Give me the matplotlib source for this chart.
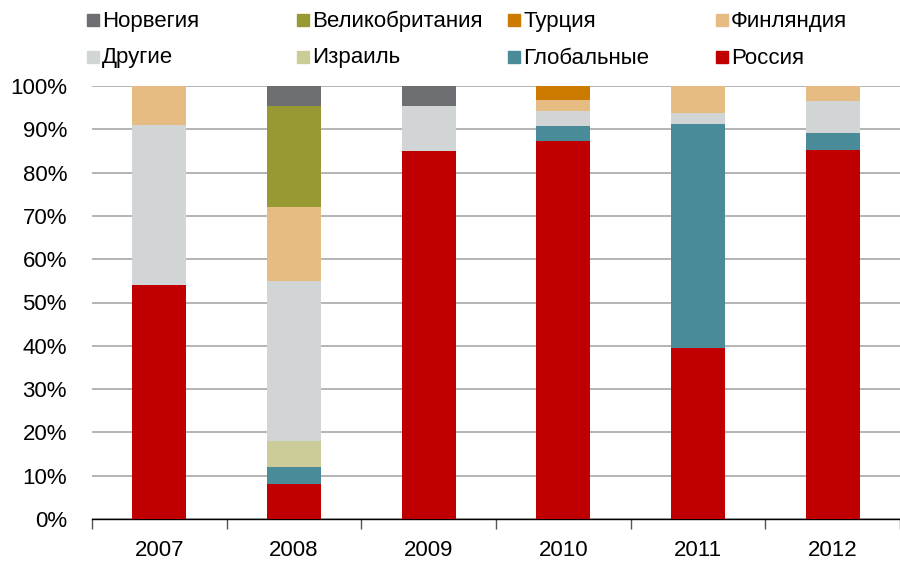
"""
Структура по странам, 2007-2012, доли в процентах
"""
import numpy as np
import matplotlib
matplotlib.use('Agg')
from matplotlib import pyplot as plt
from matplotlib.patches import Rectangle

plt.rcParams['font.family'] = ['Liberation Sans', 'DejaVu Sans']

years = ['2007', '2008', '2009', '2010', '2011', '2012']

# снизу вверх
russia = [54.0, 8.0, 85.0, 87.3, 39.5, 85.2]
globalnye = [0.0, 4.0, 0.0, 3.5, 51.7, 3.9]
israel = [0.0, 6.0, 0.0, 0.0, 0.0, 0.0]
drugie = [37.0, 37.0, 10.4, 3.4, 2.6, 7.4]
finland = [9.0, 17.0, 0.0, 2.6, 6.2, 3.5]
turkey = [0.0, 0.0, 0.0, 3.2, 0.0, 0.0]
uk = [0.0, 23.4, 0.0, 0.0, 0.0, 0.0]
norway = [0.0, 4.6, 4.6, 0.0, 0.0, 0.0]

series = [
    ('Россия', russia, '#c00000'),
    ('Глобальные', globalnye, '#4a8b9a'),
    ('Израиль', israel, '#cccc99'),
    ('Другие', drugie, '#d1d5d6'),
    ('Финляндия', finland, '#e6bc82'),
    ('Турция', turkey, '#cc7a00'),
    ('Великобритания', uk, '#999933'),
    ('Норвегия', norway, '#6d6e71'),
]

# порядок легенды (2 строки по 4)
legend_rows = [['Норвегия', 'Великобритания', 'Турция', 'Финляндия'],
               ['Другие', 'Израиль', 'Глобальные', 'Россия']]

FS = 16
W, H = 900, 562
fig = plt.figure(figsize=(W / 100, H / 100), dpi=100)
ax = fig.add_axes([92 / W, 43 / H, 1 - 92 / W, 433 / H])

x = np.arange(len(years))
bottom = np.zeros(len(years))
colors = {}
for name, vals, col in series:
    vals = np.array(vals)
    ax.bar(x, vals, 0.4, bottom=bottom, color=col, zorder=3)
    bottom += vals
    colors[name] = col

ax.set_ylim(0, 100)
ax.set_xlim(-0.5, len(years) - 0.5)
ax.set_yticks(np.arange(0, 101, 10))
ax.set_yticklabels(['{}%'.format(v) for v in range(0, 101, 10)], fontsize=FS)
ax.tick_params(axis='y', length=0, pad=18)
ax.yaxis.grid(True, color='#b4b4b4', linewidth=1.4, zorder=0)

# годы по центру столбцов, засечки на границах
ax.set_xticks(np.arange(-0.5, len(years), 1))
ax.set_xticklabels([])
ax.tick_params(axis='x', which='major', length=7, width=1, color='#555555', direction='out')
ax.set_xticks(x, minor=True)
ax.set_xticklabels(years, minor=True, fontsize=FS)
ax.tick_params(axis='x', which='minor', length=0, pad=15)

for s in ['left', 'right', 'top']:
    ax.spines[s].set_visible(False)
ax.spines['bottom'].set_color('#000000')
ax.spines['bottom'].set_linewidth(1)

# легенда вручную, как в оригинале — равные колонки
col_x = [87, 297, 508, 716]
row_y = [20, 57]
sq = 12
for r, row in enumerate(legend_rows):
    for c, name in enumerate(row):
        px, py = col_x[c], row_y[r]
        fig.patches.append(Rectangle((px / W, 1 - (py + sq / 2) / H), sq / W, sq / H,
                                     transform=fig.transFigure, color=colors[name]))
        fig.text((px + sq + 3) / W, 1 - (py + 1) / H, name, fontsize=FS, va='center', ha='left')

plt.savefig('out.png', dpi=100)
